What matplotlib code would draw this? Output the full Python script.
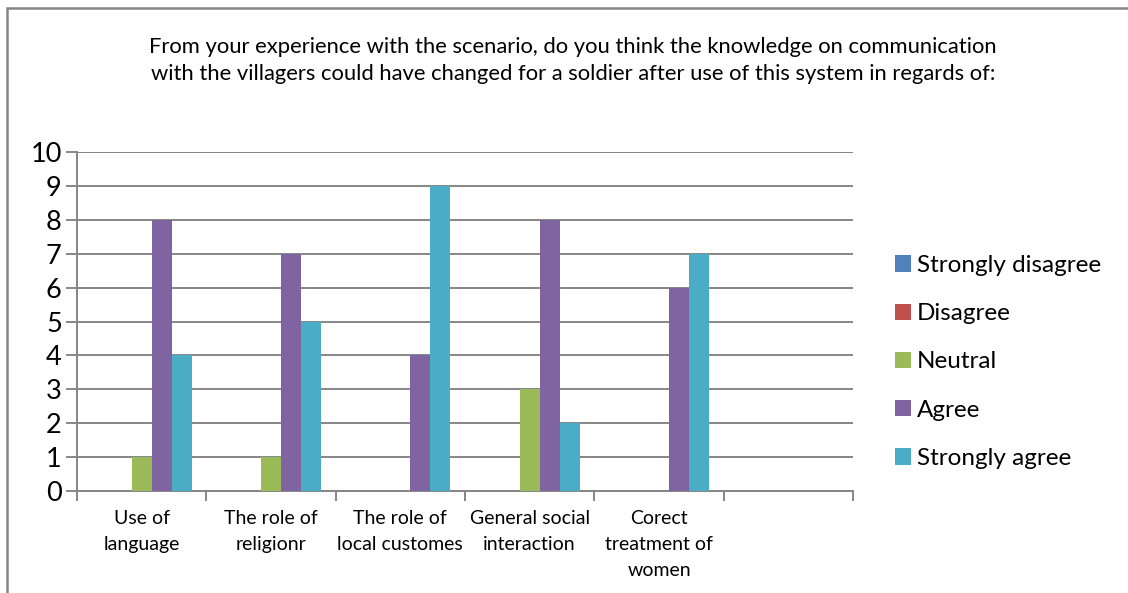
import numpy as np
import matplotlib
matplotlib.use("Agg")
import matplotlib.pyplot as plt
from matplotlib.patches import Rectangle

plt.rcParams['font.family'] = ['Lato', 'DejaVu Sans']

categories = ["Use of\nlanguage", "The role of\nreligionr", "The role of\nlocal customes",
              "General social\ninteraction", "Corect\ntreatment of\nwomen", ""]
series_names = ["Strongly disagree", "Disagree", "Neutral", "Agree", "Strongly agree"]
strongly_disagree = [0, 0, 0, 0, 0, 0]
disagree = [0, 0, 0, 0, 0, 0]
neutral = [1, 1, 0, 3, 0, 0]
agree = [8, 7, 4, 8, 6, 0]
strongly_agree = [4, 5, 9, 2, 7, 0]
colors = ["#4F81BD", "#C0504D", "#9BBB59", "#8064A2", "#4BACC6"]

title = ("From your experience with the scenario, do you think the knowledge on communication\n"
         "with the villagers could have changed for a soldier after use of this system in regards of:")

fig = plt.figure(figsize=(11.28, 5.93), dpi=100)
ax = fig.add_axes([77 / 1128, 1 - 491 / 593, 776 / 1128, 339 / 593])

# outer chart border
fig.patches.append(Rectangle((7 / 1128, -0.05), 1.2, 1.05 - 7.5 / 593, transform=fig.transFigure,
                             fill=False, edgecolor="#868686", linewidth=1.8))

x = np.arange(len(categories))
bw = 0.155
all_series = [strongly_disagree, disagree, neutral, agree, strongly_agree]
for i, (vals, name, c) in enumerate(zip(all_series, series_names, colors)):
    ax.bar(x + (i - 2) * bw, vals, width=bw, color=c, label=name, zorder=3)

ax.set_xlim(-0.5, len(categories) - 0.5)
ax.set_ylim(0, 10)
ax.set_yticks(range(0, 11))
ax.yaxis.grid(True, color="#868686", linewidth=1.4, zorder=0)
ax.set_axisbelow(True)

for s in ["top", "right"]:
    ax.spines[s].set_visible(False)
for s in ["left", "bottom"]:
    ax.spines[s].set_color("#868686")
    ax.spines[s].set_linewidth(1.4)

ax.set_xticks(np.arange(-0.5, len(categories)), minor=False)
ax.set_xticklabels([])
ax.set_xticks(x, minor=True)
ax.set_xticklabels(categories, minor=True, fontsize=14, linespacing=1.62, va="top")
ax.tick_params(axis="x", which="major", length=7, width=1.4, color="#868686", direction="out")
ax.tick_params(axis="x", which="minor", length=0, pad=14)
ax.tick_params(axis="y", length=8, width=1.4, color="#868686", labelsize=19.5, pad=3)

fig.text(573 / 1128, 1 - 60.5 / 593, title, ha="center", va="center", fontsize=15.8, linespacing=1.45)

ax.legend(loc="center left", bbox_to_anchor=(873 / 1128, 1 - 362 / 593), bbox_transform=fig.transFigure,
          frameon=False, fontsize=17.5, handlelength=0.65, handleheight=0.65, handletextpad=0.25,
          labelspacing=1.12)

fig.savefig("out.png", dpi=100, facecolor="white")
